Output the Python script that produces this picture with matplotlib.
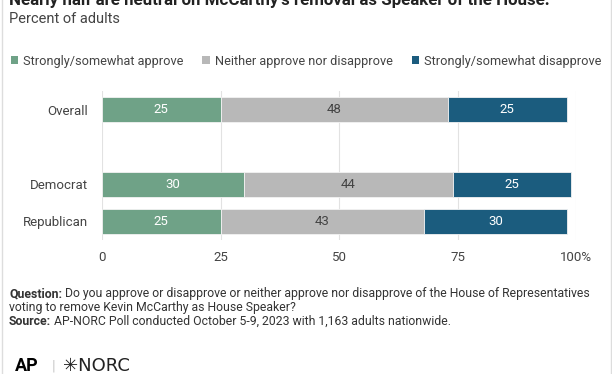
import matplotlib.pyplot as plt
from matplotlib.patches import Patch
from matplotlib.lines import Line2D

plt.rcParams['font.family'] = ['Roboto', 'DejaVu Sans']

groups = ["Overall", "Democrat", "Republican"]
group_pos = [0, 2, 3]
series = ["Strongly/somewhat approve", "Neither approve nor disapprove",
          "Strongly/somewhat disapprove"]
approve = [25, 30, 25]
neither = [48, 44, 43]
disapprove = [25, 25, 30]
colors = ["#6fa287", "#b8b8b8", "#1b5c7e"]
label_colors = ["white", "#444444", "white"]
xticks = [0, 25, 50, 75, 100]
xticklabels = ["0", "25", "50", "75", "100%"]

fig = plt.figure(figsize=(6.12, 3.74), dpi=100)
ax = fig.add_axes([102 / 612, 1 - 240 / 374, 474 / 612, 149 / 374])

left = [0, 0, 0]
for vals, col, lcol in zip([approve, neither, disapprove], colors, label_colors):
    bars = ax.barh(group_pos, vals, left=left, height=0.67, color=col,
                   edgecolor="#f2f2f2", linewidth=0.6, zorder=3)
    ax.bar_label(bars, labels=[str(v) for v in vals], label_type="center",
                 color=lcol, fontsize=9.5)
    left = [a + b for a, b in zip(left, vals)]

ax.set_xlim(0, 100)
ax.set_ylim(3.5, -0.5)
ax.set_yticks(group_pos)
ax.set_yticklabels(groups, fontsize=9.5, color="#444444")
ax.set_xticks(xticks)
ax.set_xticklabels(xticklabels, fontsize=9.5, color="#444444")
ax.tick_params(length=0, pad=8)
ax.tick_params(axis="y", pad=10)
ax.grid(axis="x", color="#e2e2e2", linewidth=0.8, zorder=0)
for s in ax.spines.values():
    s.set_visible(False)

fig.text(9 / 612, 1 - 5.5 / 374, "Nearly half are neutral on McCarthy's removal as Speaker of the House.",
         fontsize=12.2, fontweight="bold", color="#222222", va="baseline")
fig.text(9 / 612, 1 - 23 / 374, "Percent of adults", fontsize=10.5,
         color="#444444", va="baseline")

handles = [Patch(facecolor=c, edgecolor="none") for c in colors]
fig.legend(handles, series, loc="center", bbox_to_anchor=(0.5, 1 - 61 / 374),
           ncol=3, frameon=False, fontsize=9.2, handlelength=0.6, handleheight=0.6,
           handletextpad=0.35, columnspacing=1.5, labelcolor="#444444")

# footer with bold lead-ins
renderer = fig.canvas.get_renderer()
foot = [
    (297, "Question:", " Do you approve or disapprove or neither approve nor disapprove of the House of Representatives"),
    (311, None, "voting to remove Kevin McCarthy as House Speaker?"),
    (325, "Source:", " AP-NORC Poll conducted October 5-9, 2023 with 1,163 adults nationwide."),
]
for ypix, bold, rest in foot:
    x = 9 / 612
    y = 1 - ypix / 374
    if bold:
        t = fig.text(x, y, bold, fontsize=8.8, fontweight="bold", color="#333333", va="baseline")
        bb = t.get_window_extent(renderer)
        x = bb.x1 / fig.bbox.width
    fig.text(x, y, rest, fontsize=8.8, color="#333333", va="baseline")

# logo
fig.text(15 / 612, 1 - 371 / 374, "AP", fontsize=13, fontweight="bold", color="black", va="baseline")
fig.text(52 / 612, 1 - 371 / 374, "|", fontsize=11, color="#cccccc", va="baseline")
fig.text(63 / 612, 1 - 371 / 374, "\u2733NORC", fontsize=13, color="#222222",
         va="baseline", family=["DejaVu Sans"])

fig.add_artist(Line2D([1.5 / 612, 1.5 / 612], [0, 1], color="#dddddd", linewidth=1))
fig.add_artist(Line2D([610.5 / 612, 610.5 / 612], [0, 1], color="#dddddd", linewidth=1))

fig.savefig("out.png", dpi=100)
